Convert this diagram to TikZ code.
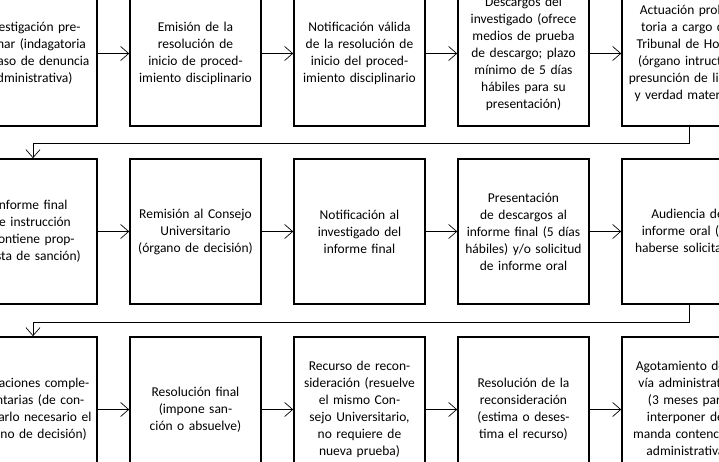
\documentclass[tikz,border=0pt]{standalone}
\usepackage{fontspec}
\setmainfont{Carlito}
\usetikzlibrary{arrows.meta}
\newcommand\singuion{\hyphenpenalty=10000\exhyphenpenalty=10000\relax}
\begin{document}
\begin{tikzpicture}[x=1pt,y=-1pt,
    paso/.style={draw,line width=1.6pt,minimum width=131pt,minimum height=145pt,
        text width=121pt,align=center,inner sep=0pt,
        font=\fontsize{13.5pt}{17pt}\selectfont},
    flecha/.style={-{Straight Barb[length=8pt,width=14pt]},line width=0.7pt}
    ]
\useasboundingbox (0,0) rectangle (719,462);
\clip (0,0) rectangle (719,462);
\foreach \t [count=\i from 0] in {%
    {Investigación preliminar (indagatoria en caso de denuncia administrativa)},
    {Emisión de la resolución de inicio de procedimiento disciplinario},
    {Notificación válida de la resolución de inicio del procedimiento disciplinario},
    {Descargos del investigado (ofrece medios de prueba de descargo; plazo mínimo de 5 días hábiles para su presentación)},
    {Actuación probatoria a cargo del Tribunal de Honor (órgano intructor: presunción de licitud y verdad material,)},
    {Informe final de instrucción (contiene propuesta de sanción)},
    {Remisión al Consejo Universitario (órgano de decisión)},
    {Notificación al investigado del informe final},
    {Presentación de descargos al informe final (5 días hábiles) y/o solicitud de informe oral},
    {Audiencia de informe oral (de haberse solicitado)},
    {Actuaciones complementarias (de considerarlo necesario el órgano de decisión)},
    {Resolución final (impone sanción o absuelve)},
    {Recurso de reconsideración (resuelve el mismo Consejo Universitario, no requiere de nueva prueba)},
    {Resolución de la reconsideración (estima o desestima el recurso)},
    {Agotamiento de la vía administrativa (3 meses para interponer demanda contencioso administrativa)}}
{
    \pgfmathtruncatemacro\col{mod(\i,5)}
    \pgfmathtruncatemacro\fila{div(\i,5)}
    \pgfmathsetmacro\cy{\fila==0 ? 53.5 : (\fila==1 ? 231.5 : 409.5)}
    \pgfmathtruncatemacro\n{\i+1}
    \node[paso] (b\n) at (31.5+164*\col,\cy) {\singuion\t};
}
% flechas dentro de cada fila
\foreach \a/\b in {1/2,2/3,3/4,4/5,6/7,7/8,8/9,9/10,11/12,12/13,13/14,14/15}
    \draw[flecha] (b\a) -- (b\b);
% cambio de fila
\coordinate (r1) at (689,143);
\coordinate (l1) at (33,143);
\coordinate (r2) at (689,322);
\coordinate (l2) at (33,322);
\draw[line width=0.7pt] (b5.south -| r1) -- (r1) -- (l1);
\draw[flecha] (l1) -- (l1 |- b6.north);
\draw[line width=0.7pt] (b10.south -| r2) -- (r2) -- (l2);
\draw[flecha] (l2) -- (l2 |- b11.north);
\end{tikzpicture}
\end{document}
